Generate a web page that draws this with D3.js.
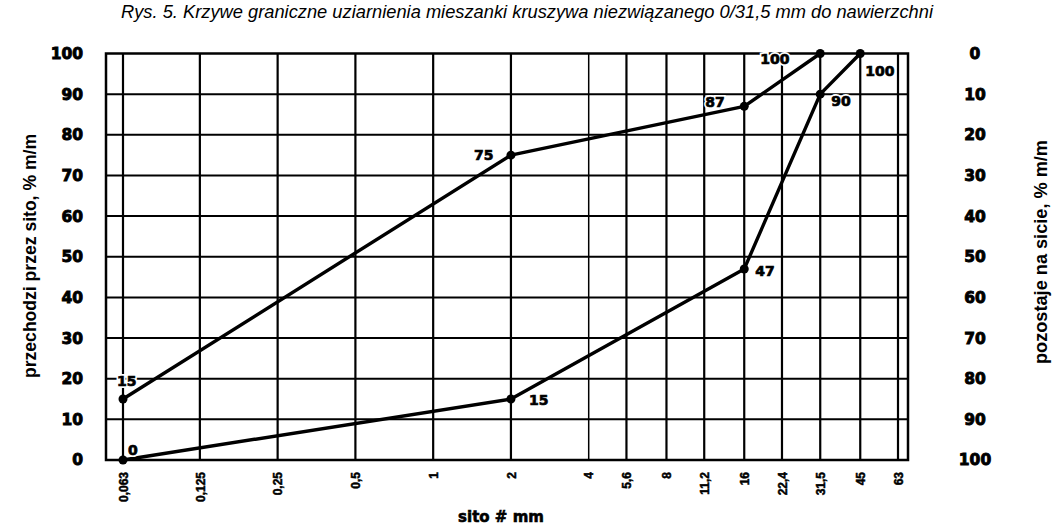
<!DOCTYPE html>
<meta charset="utf-8">
<style>
    body { margin: 0; background: #fff; }
    svg { display: block; }
    .title { font-family: "Liberation Sans", Arial, sans-serif; font-style: italic; }
    .narrow { font-family: "Liberation Sans", Arial, sans-serif; font-weight: bold; }
    .wide { font-family: "DejaVu Sans", sans-serif; font-weight: bold; }
</style>
<svg id="chart" width="1054" height="531"></svg>
<script src="https://cdn.jsdelivr.net/npm/d3@7"></script>
<script>
    // sieve sizes (mm) and their printed labels
    var sieves = [0.063, 0.125, 0.25, 0.5, 1, 2, 4, 5.6, 8, 11.2, 16, 22.4, 31.5, 45, 63];
    var sieveLabels = ["0,063", "0,125", "0,25", "0,5", "1", "2", "4", "5,6", "8", "11,2", "16", "22,4", "31,5", "45", "63"];
    var percentTicks = [0, 10, 20, 30, 40, 50, 60, 70, 80, 90, 100];

    // upper limit curve
    var upperSieve = [0.063, 2, 16, 31.5];
    var upperPass = [15, 75, 87, 100];
    // lower limit curve
    var lowerSieve = [0.063, 2, 16, 31.5, 45];
    var lowerPass = [0, 15, 47, 90, 100];

    var svg = d3.select("#chart");

    var x = d3.scaleLog().domain([0.063, 63]).range([123, 898]);
    var y = d3.scaleLinear().domain([0, 100]).range([460, 53.5]);
    var yRight = d3.scaleLinear().domain([100, 0]).range([460, 53.5]);
    var frameLeft = 106, frameRight = 908;

    svg.append("text")
        .attr("class", "title")
        .attr("x", 527).attr("y", 18)
        .attr("text-anchor", "middle")
        .attr("font-size", 19)
        .attr("textLength", 812)
        .attr("lengthAdjust", "spacingAndGlyphs")
        .text("Rys. 5. Krzywe graniczne uziarnienia mieszanki kruszywa niezwiązanego 0/31,5 mm do nawierzchni");

    // grid
    var grid = svg.append("g").attr("stroke", "#000");
    grid.selectAll("line.h")
        .data(percentTicks.slice(1, -1))
        .join("line")
        .attr("class", "h")
        .attr("x1", frameLeft).attr("x2", frameRight)
        .attr("y1", d => y(d)).attr("y2", d => y(d))
        .attr("stroke-width", 2);
    grid.selectAll("line.v")
        .data(sieves)
        .join("line")
        .attr("class", "v")
        .attr("x1", d => x(d)).attr("x2", d => x(d))
        .attr("y1", y(100)).attr("y2", y(0))
        .attr("stroke-width", d => d == 4 ? 1.5 : 2.2);

    // frame
    svg.append("rect")
        .attr("x", frameLeft).attr("y", y(100))
        .attr("width", frameRight - frameLeft).attr("height", y(0) - y(100))
        .attr("fill", "none").attr("stroke", "#000").attr("stroke-width", 2.5);

    // left / right axes
    var leftAxis = d3.axisLeft(y).tickValues(percentTicks).tickSize(0).tickPadding(0);
    svg.append("g")
        .attr("transform", "translate(83,0)")
        .call(leftAxis)
        .call(g => g.select(".domain").remove())
        .selectAll("text")
        .attr("class", "wide")
        .attr("font-size", 15.5)
        .attr("fill", "#000")
        .attr("stroke", "#000").attr("stroke-width", 0.9);

    var rightAxis = d3.axisRight(yRight).tickValues(percentTicks).tickSize(0).tickPadding(0);
    svg.append("g")
        .attr("transform", "translate(975,0)")
        .call(rightAxis)
        .call(g => g.select(".domain").remove())
        .selectAll("text")
        .attr("class", "wide")
        .attr("font-size", 15.5)
        .attr("text-anchor", "middle")
        .attr("fill", "#000")
        .attr("stroke", "#000").attr("stroke-width", 0.9);

    // bottom sieve labels, rotated
    var bottomAxis = d3.axisBottom(x).tickValues(sieves).tickFormat((d, i) => sieveLabels[i]).tickSize(0).tickPadding(0);
    svg.append("g")
        .attr("transform", "translate(0,472)")
        .call(bottomAxis)
        .call(g => g.select(".domain").remove())
        .selectAll("text")
        .attr("class", "narrow")
        .attr("font-size", 12)
        .attr("fill", "#000")
        .attr("stroke", "#000").attr("stroke-width", 0.5)
        .attr("transform", "rotate(-90)")
        .attr("text-anchor", "end")
        .attr("dy", "0.35em")
        .attr("y", 0)
        .attr("x", 0);

    // axis titles
    svg.append("text")
        .attr("class", "narrow")
        .attr("transform", "translate(36,256) rotate(-90)")
        .attr("text-anchor", "middle")
        .attr("font-size", 18)
        .attr("textLength", 244)
        .attr("lengthAdjust", "spacingAndGlyphs")
        .text("przechodzi przez sito, % m/m");
    svg.append("text")
        .attr("class", "narrow")
        .attr("transform", "translate(1047,252) rotate(-90)")
        .attr("text-anchor", "middle")
        .attr("font-size", 18)
        .attr("textLength", 224)
        .attr("lengthAdjust", "spacingAndGlyphs")
        .text("pozostaje na sicie, % m/m");
    svg.append("text")
        .attr("class", "wide")
        .attr("x", 501).attr("y", 522)
        .attr("text-anchor", "middle")
        .attr("font-size", 15)
        .attr("stroke", "#000").attr("stroke-width", 0.6)
        .text("sito # mm");

    // curves
    var upper = upperSieve.map((s, i) => ({ s: s, p: upperPass[i] }));
    var lower = lowerSieve.map((s, i) => ({ s: s, p: lowerPass[i] }));
    var line = d3.line().x(d => x(d.s)).y(d => y(d.p));

    [upper, lower].forEach(series => {
        svg.append("path")
            .datum(series)
            .attr("d", line)
            .attr("fill", "none")
            .attr("stroke", "#000")
            .attr("stroke-width", 3.4)
            .attr("stroke-linejoin", "round");
        svg.append("g").selectAll("circle")
            .data(series)
            .join("circle")
            .attr("cx", d => x(d.s)).attr("cy", d => y(d.p))
            .attr("r", 4.5)
            .attr("fill", "#000");
    });

    // value labels: offsets from each point
    var upperLabelOffsets = [[-6, -13], [-37, 5], [-39, 1], [-60, 10]];
    var lowerLabelOffsets = [[5, -5], [18, 6], [11, 7], [11, 12], [5, 22]];

    function addLabels(series, offsets) {
        var g = svg.append("g");
        // white halo first, then the heavy glyphs
        [["#fff", 4], ["#000", 0.7]].forEach(st => {
            g.append("g").selectAll("text")
                .data(series)
                .join("text")
                .attr("class", "wide")
                .attr("font-size", 14)
                .attr("x", (d, i) => x(d.s) + offsets[i][0])
                .attr("y", (d, i) => y(d.p) + offsets[i][1])
                .attr("stroke", st[0]).attr("stroke-width", st[1])
                .attr("fill", "#000")
                .text(d => d.p);
        });
    }
    addLabels(upper, upperLabelOffsets);
    addLabels(lower, lowerLabelOffsets);
</script>
